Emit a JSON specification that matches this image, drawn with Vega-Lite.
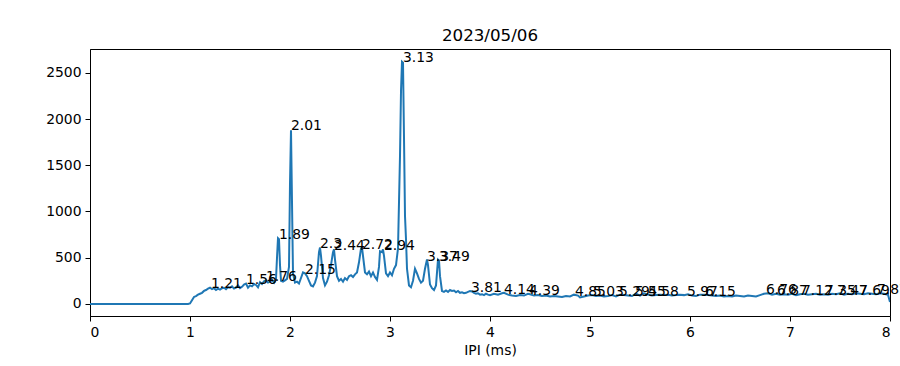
{
  "$schema": "https://vega.github.io/schema/vega-lite/v6.json",
  "width": 800,
  "height": 267,
  "autosize": {"type": "none"},
  "padding": {"left": 90, "top": 49, "right": 10, "bottom": 50},
  "background": "white",
  "title": {"text": "2023/05/06", "font": "DejaVu Sans", "fontSize": 16.7, "fontWeight": "normal", "color": "black", "offset": 4},
  "config": {
    "view": {"stroke": "black", "strokeWidth": 1},
    "axis": {
      "domainColor": "black", "tickColor": "black", "grid": false,
      "labelFont": "DejaVu Sans", "labelFontSize": 13.9, "labelColor": "black",
      "titleFont": "DejaVu Sans", "titleFontSize": 13.9, "titleFontWeight": "normal", "titleColor": "black",
      "tickSize": 5, "labelPadding": 4
    }
  },
  "datasets": {
    "curve": [
      {"x":0,"y":0},{"x":0.5,"y":0},{"x":0.98,"y":0},{"x":1.0,"y":5},{"x":1.02,"y":40},{"x":1.04,"y":75},{"x":1.06,"y":85},{"x":1.08,"y":100},{"x":1.10,"y":110},{"x":1.12,"y":120},{"x":1.14,"y":140},{"x":1.16,"y":150},{"x":1.18,"y":165},{"x":1.20,"y":175},{"x":1.22,"y":160},{"x":1.24,"y":170},{"x":1.26,"y":150},{"x":1.28,"y":165},{"x":1.30,"y":155},{"x":1.32,"y":170},{"x":1.34,"y":175},{"x":1.36,"y":160},{"x":1.38,"y":180},{"x":1.40,"y":175},{"x":1.42,"y":190},{"x":1.44,"y":165},{"x":1.46,"y":175},{"x":1.48,"y":200},{"x":1.50,"y":170},{"x":1.52,"y":185},{"x":1.54,"y":210},{"x":1.56,"y":220},{"x":1.58,"y":175},{"x":1.60,"y":200},{"x":1.62,"y":190},{"x":1.64,"y":215},{"x":1.66,"y":205},{"x":1.68,"y":180},{"x":1.70,"y":235},{"x":1.72,"y":215},{"x":1.74,"y":245},{"x":1.76,"y":255},{"x":1.78,"y":230},{"x":1.80,"y":240},{"x":1.82,"y":260},{"x":1.84,"y":230},{"x":1.86,"y":270},{"x":1.87,"y":500},{"x":1.88,"y":710},{"x":1.89,"y":700},{"x":1.90,"y":420},{"x":1.91,"y":250},{"x":1.93,"y":240},{"x":1.95,"y":255},{"x":1.97,"y":270},{"x":1.99,"y":400},{"x":2.00,"y":1300},{"x":2.01,"y":1880},{"x":2.02,"y":1100},{"x":2.03,"y":330},{"x":2.05,"y":230},{"x":2.07,"y":240},{"x":2.09,"y":220},{"x":2.11,"y":280},{"x":2.13,"y":340},{"x":2.15,"y":330},{"x":2.17,"y":300},{"x":2.19,"y":250},{"x":2.21,"y":200},{"x":2.23,"y":190},{"x":2.25,"y":230},{"x":2.27,"y":300},{"x":2.29,"y":560},{"x":2.30,"y":610},{"x":2.31,"y":520},{"x":2.33,"y":280},{"x":2.35,"y":200},{"x":2.37,"y":240},{"x":2.39,"y":310},{"x":2.41,"y":420},{"x":2.43,"y":560},{"x":2.44,"y":590},{"x":2.45,"y":480},{"x":2.47,"y":300},{"x":2.49,"y":250},{"x":2.51,"y":270},{"x":2.53,"y":240},{"x":2.55,"y":280},{"x":2.57,"y":260},{"x":2.59,"y":300},{"x":2.61,"y":310},{"x":2.63,"y":290},{"x":2.65,"y":320},{"x":2.67,"y":340},{"x":2.69,"y":450},{"x":2.71,"y":600},{"x":2.72,"y":610},{"x":2.73,"y":520},{"x":2.75,"y":340},{"x":2.77,"y":320},{"x":2.79,"y":350},{"x":2.81,"y":300},{"x":2.83,"y":340},{"x":2.85,"y":290},{"x":2.87,"y":260},{"x":2.89,"y":400},{"x":2.90,"y":570},{"x":2.92,"y":560},{"x":2.93,"y":590},{"x":2.94,"y":520},{"x":2.96,"y":330},{"x":2.98,"y":300},{"x":3.00,"y":340},{"x":3.02,"y":310},{"x":3.04,"y":380},{"x":3.06,"y":420},{"x":3.08,"y":600},{"x":3.10,"y":1600},{"x":3.11,"y":2300},{"x":3.12,"y":2620},{"x":3.13,"y":2610},{"x":3.14,"y":1800},{"x":3.15,"y":950},{"x":3.16,"y":700},{"x":3.17,"y":380},{"x":3.19,"y":200},{"x":3.21,"y":180},{"x":3.23,"y":250},{"x":3.25,"y":380},{"x":3.27,"y":330},{"x":3.29,"y":270},{"x":3.31,"y":230},{"x":3.33,"y":250},{"x":3.35,"y":380},{"x":3.37,"y":480},{"x":3.38,"y":420},{"x":3.40,"y":210},{"x":3.42,"y":170},{"x":3.44,"y":150},{"x":3.46,"y":200},{"x":3.48,"y":480},{"x":3.49,"y":470},{"x":3.50,"y":300},{"x":3.52,"y":140},{"x":3.54,"y":130},{"x":3.56,"y":145},{"x":3.58,"y":130},{"x":3.60,"y":150},{"x":3.62,"y":140},{"x":3.64,"y":145},{"x":3.66,"y":125},{"x":3.68,"y":140},{"x":3.70,"y":120},{"x":3.72,"y":125},{"x":3.74,"y":115},{"x":3.76,"y":120},{"x":3.78,"y":130},{"x":3.80,"y":140},{"x":3.82,"y":135},{"x":3.84,"y":120},{"x":3.86,"y":110},{"x":3.88,"y":115},{"x":3.90,"y":100},{"x":3.92,"y":105},{"x":3.94,"y":95},{"x":3.96,"y":110},{"x":3.98,"y":100},{"x":4.00,"y":95},{"x":4.04,"y":110},{"x":4.08,"y":100},{"x":4.12,"y":115},{"x":4.14,"y":120},{"x":4.18,"y":100},{"x":4.22,"y":90},{"x":4.26,"y":85},{"x":4.30,"y":95},{"x":4.34,"y":90},{"x":4.38,"y":110},{"x":4.40,"y":105},{"x":4.44,"y":90},{"x":4.48,"y":95},{"x":4.52,"y":85},{"x":4.56,"y":90},{"x":4.60,"y":80},{"x":4.64,"y":85},{"x":4.68,"y":80},{"x":4.72,"y":75},{"x":4.76,"y":85},{"x":4.80,"y":80},{"x":4.84,"y":100},{"x":4.88,"y":90},{"x":4.90,"y":70},{"x":4.94,"y":80},{"x":4.98,"y":90},{"x":5.02,"y":95},{"x":5.06,"y":85},{"x":5.10,"y":90},{"x":5.14,"y":80},{"x":5.18,"y":85},{"x":5.22,"y":95},{"x":5.26,"y":80},{"x":5.30,"y":100},{"x":5.34,"y":95},{"x":5.38,"y":90},{"x":5.42,"y":85},{"x":5.46,"y":110},{"x":5.50,"y":90},{"x":5.54,"y":115},{"x":5.58,"y":100},{"x":5.62,"y":90},{"x":5.66,"y":95},{"x":5.70,"y":100},{"x":5.74,"y":95},{"x":5.78,"y":100},{"x":5.82,"y":90},{"x":5.86,"y":95},{"x":5.90,"y":100},{"x":5.94,"y":95},{"x":5.98,"y":105},{"x":6.02,"y":90},{"x":6.06,"y":85},{"x":6.10,"y":100},{"x":6.14,"y":100},{"x":6.18,"y":95},{"x":6.22,"y":90},{"x":6.26,"y":85},{"x":6.30,"y":90},{"x":6.34,"y":80},{"x":6.38,"y":85},{"x":6.42,"y":80},{"x":6.46,"y":90},{"x":6.50,"y":85},{"x":6.54,"y":80},{"x":6.58,"y":90},{"x":6.62,"y":85},{"x":6.66,"y":80},{"x":6.70,"y":95},{"x":6.74,"y":110},{"x":6.78,"y":115},{"x":6.82,"y":100},{"x":6.86,"y":110},{"x":6.90,"y":100},{"x":6.94,"y":105},{"x":6.98,"y":100},{"x":7.02,"y":110},{"x":7.06,"y":95},{"x":7.10,"y":105},{"x":7.14,"y":110},{"x":7.18,"y":100},{"x":7.22,"y":105},{"x":7.26,"y":110},{"x":7.30,"y":100},{"x":7.34,"y":105},{"x":7.38,"y":100},{"x":7.42,"y":110},{"x":7.46,"y":105},{"x":7.50,"y":115},{"x":7.54,"y":100},{"x":7.58,"y":110},{"x":7.62,"y":105},{"x":7.66,"y":115},{"x":7.70,"y":110},{"x":7.74,"y":105},{"x":7.78,"y":115},{"x":7.82,"y":110},{"x":7.86,"y":105},{"x":7.90,"y":115},{"x":7.94,"y":110},{"x":7.98,"y":100},{"x":8.00,"y":20}
    ],
    "peaks": [
      {"x":1.21,"y":175,"label":"1.21"},{"x":1.56,"y":215,"label":"1.56"},{"x":1.76,"y":250,"label":"1.76"},{"x":1.89,"y":700,"label":"1.89"},{"x":2.01,"y":1880,"label":"2.01"},{"x":2.15,"y":325,"label":"2.15"},{"x":2.3,"y":605,"label":"2.3"},{"x":2.44,"y":585,"label":"2.44"},{"x":2.72,"y":590,"label":"2.72"},{"x":2.94,"y":585,"label":"2.94"},{"x":3.13,"y":2615,"label":"3.13"},{"x":3.37,"y":465,"label":"3.37"},{"x":3.49,"y":465,"label":"3.49"},{"x":3.81,"y":130,"label":"3.81"},{"x":4.14,"y":110,"label":"4.14"},{"x":4.39,"y":100,"label":"4.39"},{"x":4.85,"y":80,"label":"4.85"},{"x":5.03,"y":80,"label":"5.03"},{"x":5.29,"y":90,"label":"5.29"},{"x":5.45,"y":90,"label":"5.45"},{"x":5.58,"y":90,"label":"5.58"},{"x":5.97,"y":90,"label":"5.97"},{"x":6.15,"y":80,"label":"6.15"},{"x":6.76,"y":110,"label":"6.76"},{"x":6.87,"y":100,"label":"6.87"},{"x":7.12,"y":100,"label":"7.12"},{"x":7.35,"y":100,"label":"7.35"},{"x":7.47,"y":100,"label":"7.47"},{"x":7.69,"y":100,"label":"7.69"},{"x":7.87,"y":105,"label":"7.87"}
    ]
  },
  "layer": [
    {
      "data": {"name": "curve"},
      "mark": {"type": "line", "color": "#1f77b4", "strokeWidth": 2, "clip": true},
      "encoding": {
        "x": {"field": "x", "type": "quantitative", "scale": {"domain": [0, 8], "nice": false, "zero": false}, "axis": {"title": "IPI (ms)", "values": [0,1,2,3,4,5,6,7,8], "format": "d", "titlePadding": 5}},
        "y": {"field": "y", "type": "quantitative", "scale": {"domain": [-131, 2758], "nice": false, "zero": false}, "axis": {"title": null, "values": [0,500,1000,1500,2000,2500], "format": "d"}}
      }
    },
    {
      "data": {"name": "peaks"},
      "mark": {"type": "text", "align": "left", "baseline": "alphabetic", "font": "DejaVu Sans", "fontSize": 13.9, "color": "black"},
      "encoding": {
        "x": {"field": "x", "type": "quantitative"},
        "y": {"field": "y", "type": "quantitative"},
        "text": {"field": "label"}
      }
    }
  ]
}
